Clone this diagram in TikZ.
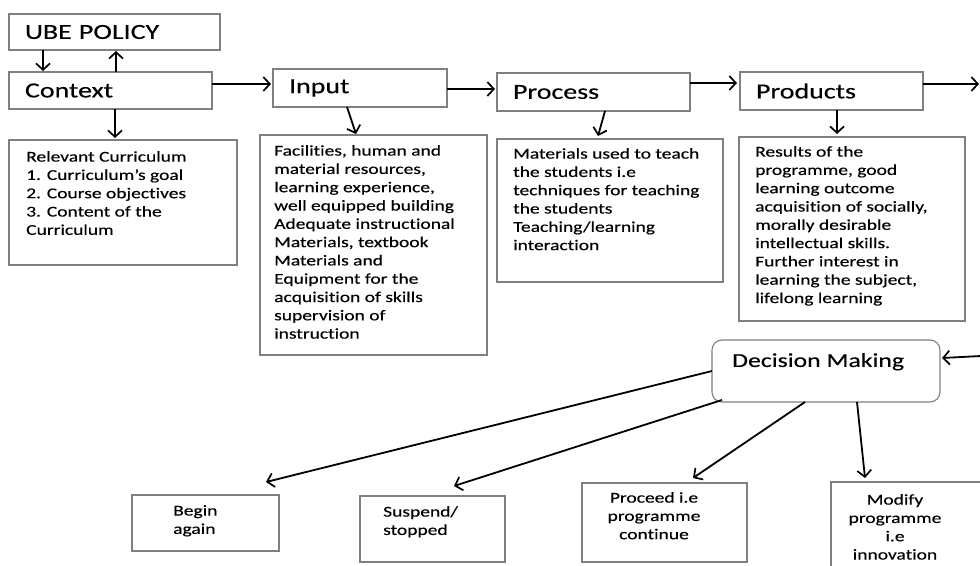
\documentclass[tikz,border=0pt]{standalone}
\usepackage{fontspec}
\setmainfont{Carlito}[FakeStretch=1.3,Ligatures={NoCommon},FakeBold=0.3]
\usetikzlibrary{arrows.meta,calc}
\definecolor{boxgrey}{gray}{0.5}
\begin{document}
\begin{tikzpicture}[x=1pt,y=-1pt,
  frame/.style={draw=boxgrey, line width=1.1pt, rectangle, anchor=north west, inner sep=0pt, outer sep=0pt},
  head/.style={frame, inner xsep=16pt, align=left, font=\fontsize{21.5}{24}\selectfont},
  body/.style={anchor=north west, inner sep=0pt, align=left, font=\fontsize{15}{18.3}\selectfont},
  bodyc/.style={anchor=north, inner sep=0pt, align=center, font=\fontsize{15}{18.3}\selectfont},
  arr/.style={line width=1.8pt, -{Straight Barb[length=6.5pt,width=14pt,line width=1.7pt]}},
]
\useasboundingbox (0,0) rectangle (980,565);
\clip (0,0) rectangle (980,565);
\fill[white] (0,0) rectangle (980,565);

% top row
\node[head, minimum height=36pt, text width=179pt] (ube) at (9,14) {UBE POLICY};
\node[head, minimum height=37pt, text width=171pt] (ctx) at (9,72) {Context};
\node[head, minimum height=38pt, text width=142pt] (inp) at (273,69) {Input};
\node[head, minimum height=38pt, text width=161pt] (proc) at (497,73) {Process};
\node[head, minimum height=38pt, text width=151pt] (prod) at (740,72) {Products};

% detail boxes
\node[frame, minimum width=228pt, minimum height=125pt] (rel) at (9,140) {};
\node[frame, minimum width=227pt, minimum height=220pt] (inpd) at (260,135) {};
\node[frame, minimum width=226pt, minimum height=143pt] (procd) at (497,139) {};
\node[frame, minimum width=226pt, minimum height=184pt] (prodd) at (739,137) {};

\node[body] (relt) at ($(rel.north west)+(17,11)$) {Relevant Curriculum\\1. Curriculum’s goal\\2. Course objectives\\3. Content of the\\Curriculum};
\node[body] (inpt) at ($(inpd.north west)+(14,10)$) {Facilities, human and\\material resources,\\learning experience,\\well equipped building\\Adequate instructional\\Materials, textbook\\Materials and\\Equipment for the\\acquisition of skills\\supervision of\\instruction};
\node[body] (proct) at ($(procd.north west)+(16,9)$) {Materials used to teach\\the students i.e\\techniques for teaching\\the students\\Teaching/learning\\interaction};
\node[body] (prodt) at ($(prodd.north west)+(16,9)$) {Results of the\\programme, good\\learning outcome\\acquisition of socially,\\morally desirable\\intellectual skills.\\Further interest in\\learning the subject,\\lifelong learning};

% decision
\node[frame, rounded corners=10pt, minimum width=228pt, minimum height=62pt] (dec) at (712,340) {};
\node[anchor=north west, inner sep=0pt, font=\fontsize{19.8}{22}\selectfont] (dect) at ($(dec.north west)+(20,13)$) {Decision Making};

% outcomes
\node[frame, minimum width=147pt, minimum height=56pt] (beg) at (132,495) {};
\node[frame, minimum width=145pt, minimum height=66pt] (sus) at (360,496) {};
\node[frame, minimum width=165pt, minimum height=79pt] (pro) at (582,483) {};
\node[frame, minimum width=170pt, minimum height=100pt] (mod) at (831,482) {};
\node[body] (begt) at ($(beg.north west)+(41,10)$) {Begin\\again};
\node[body] (sust) at ($(sus.north west)+(23,10)$) {Suspend/\\stopped};
\node[bodyc] (prot) at ($(pro.north west)+(72,9)$) {Proceed i.e\\programme\\continue};
\node[bodyc] (modt) at ($(mod.north west)+(64,12)$) {Modify\\programme\\i.e\\innovation};

\coordinate (outR) at (979,84);
\coordinate (inR) at (981,356);

% connectors
\draw[arr] ($(ube.south west)+(34,0)$) -- ($(ctx.north west)+(34,-1)$);
\draw[arr] ($(ctx.north west)+(107,0)$) -- ($(ube.south west)+(107,1)$);
\draw[arr] ($(ctx.south west)+(106,0)$) -- ($(rel.north west)+(106,-2)$);
\draw[arr] ($(ctx.north east)+(0,12)$) -- ($(inp.north west)+(-2,15)$);
\draw[arr] ($(inp.north east)+(0,20)$) -- ($(proc.north west)+(-2,16)$);
\draw[arr] ($(proc.north east)+(0,10)$) -- ($(prod.north west)+(-3,11)$);
\draw[arr] ($(prod.north east)+(0,12)$) -- (outR);
\draw[arr] ($(inp.south west)+(74,0)$) -- ($(inpd.north west)+(96,-1)$);
\draw[arr] ($(proc.south west)+(108,0)$) -- ($(procd.north west)+(101,-3)$);
\draw[arr] ($(prod.south west)+(97,0)$) -- ($(prodd.north west)+(98,-3)$);
\draw[arr] (inR) -- ($(dec.east)+(2,-13)$);
\draw[arr] (dec.west) -- ($(beg.north west)+(134,-13)$);
\draw[arr] ($(dec.south west)+(10,-2)$) -- ($(sus.north west)+(94,-10)$);
\draw[arr] ($(dec.south west)+(93,0)$) -- ($(pro.north west)+(111,-5)$);
\draw[arr] ($(dec.south west)+(145,0)$) -- ($(mod.north west)+(34,-4)$);
\end{tikzpicture}
\end{document}
